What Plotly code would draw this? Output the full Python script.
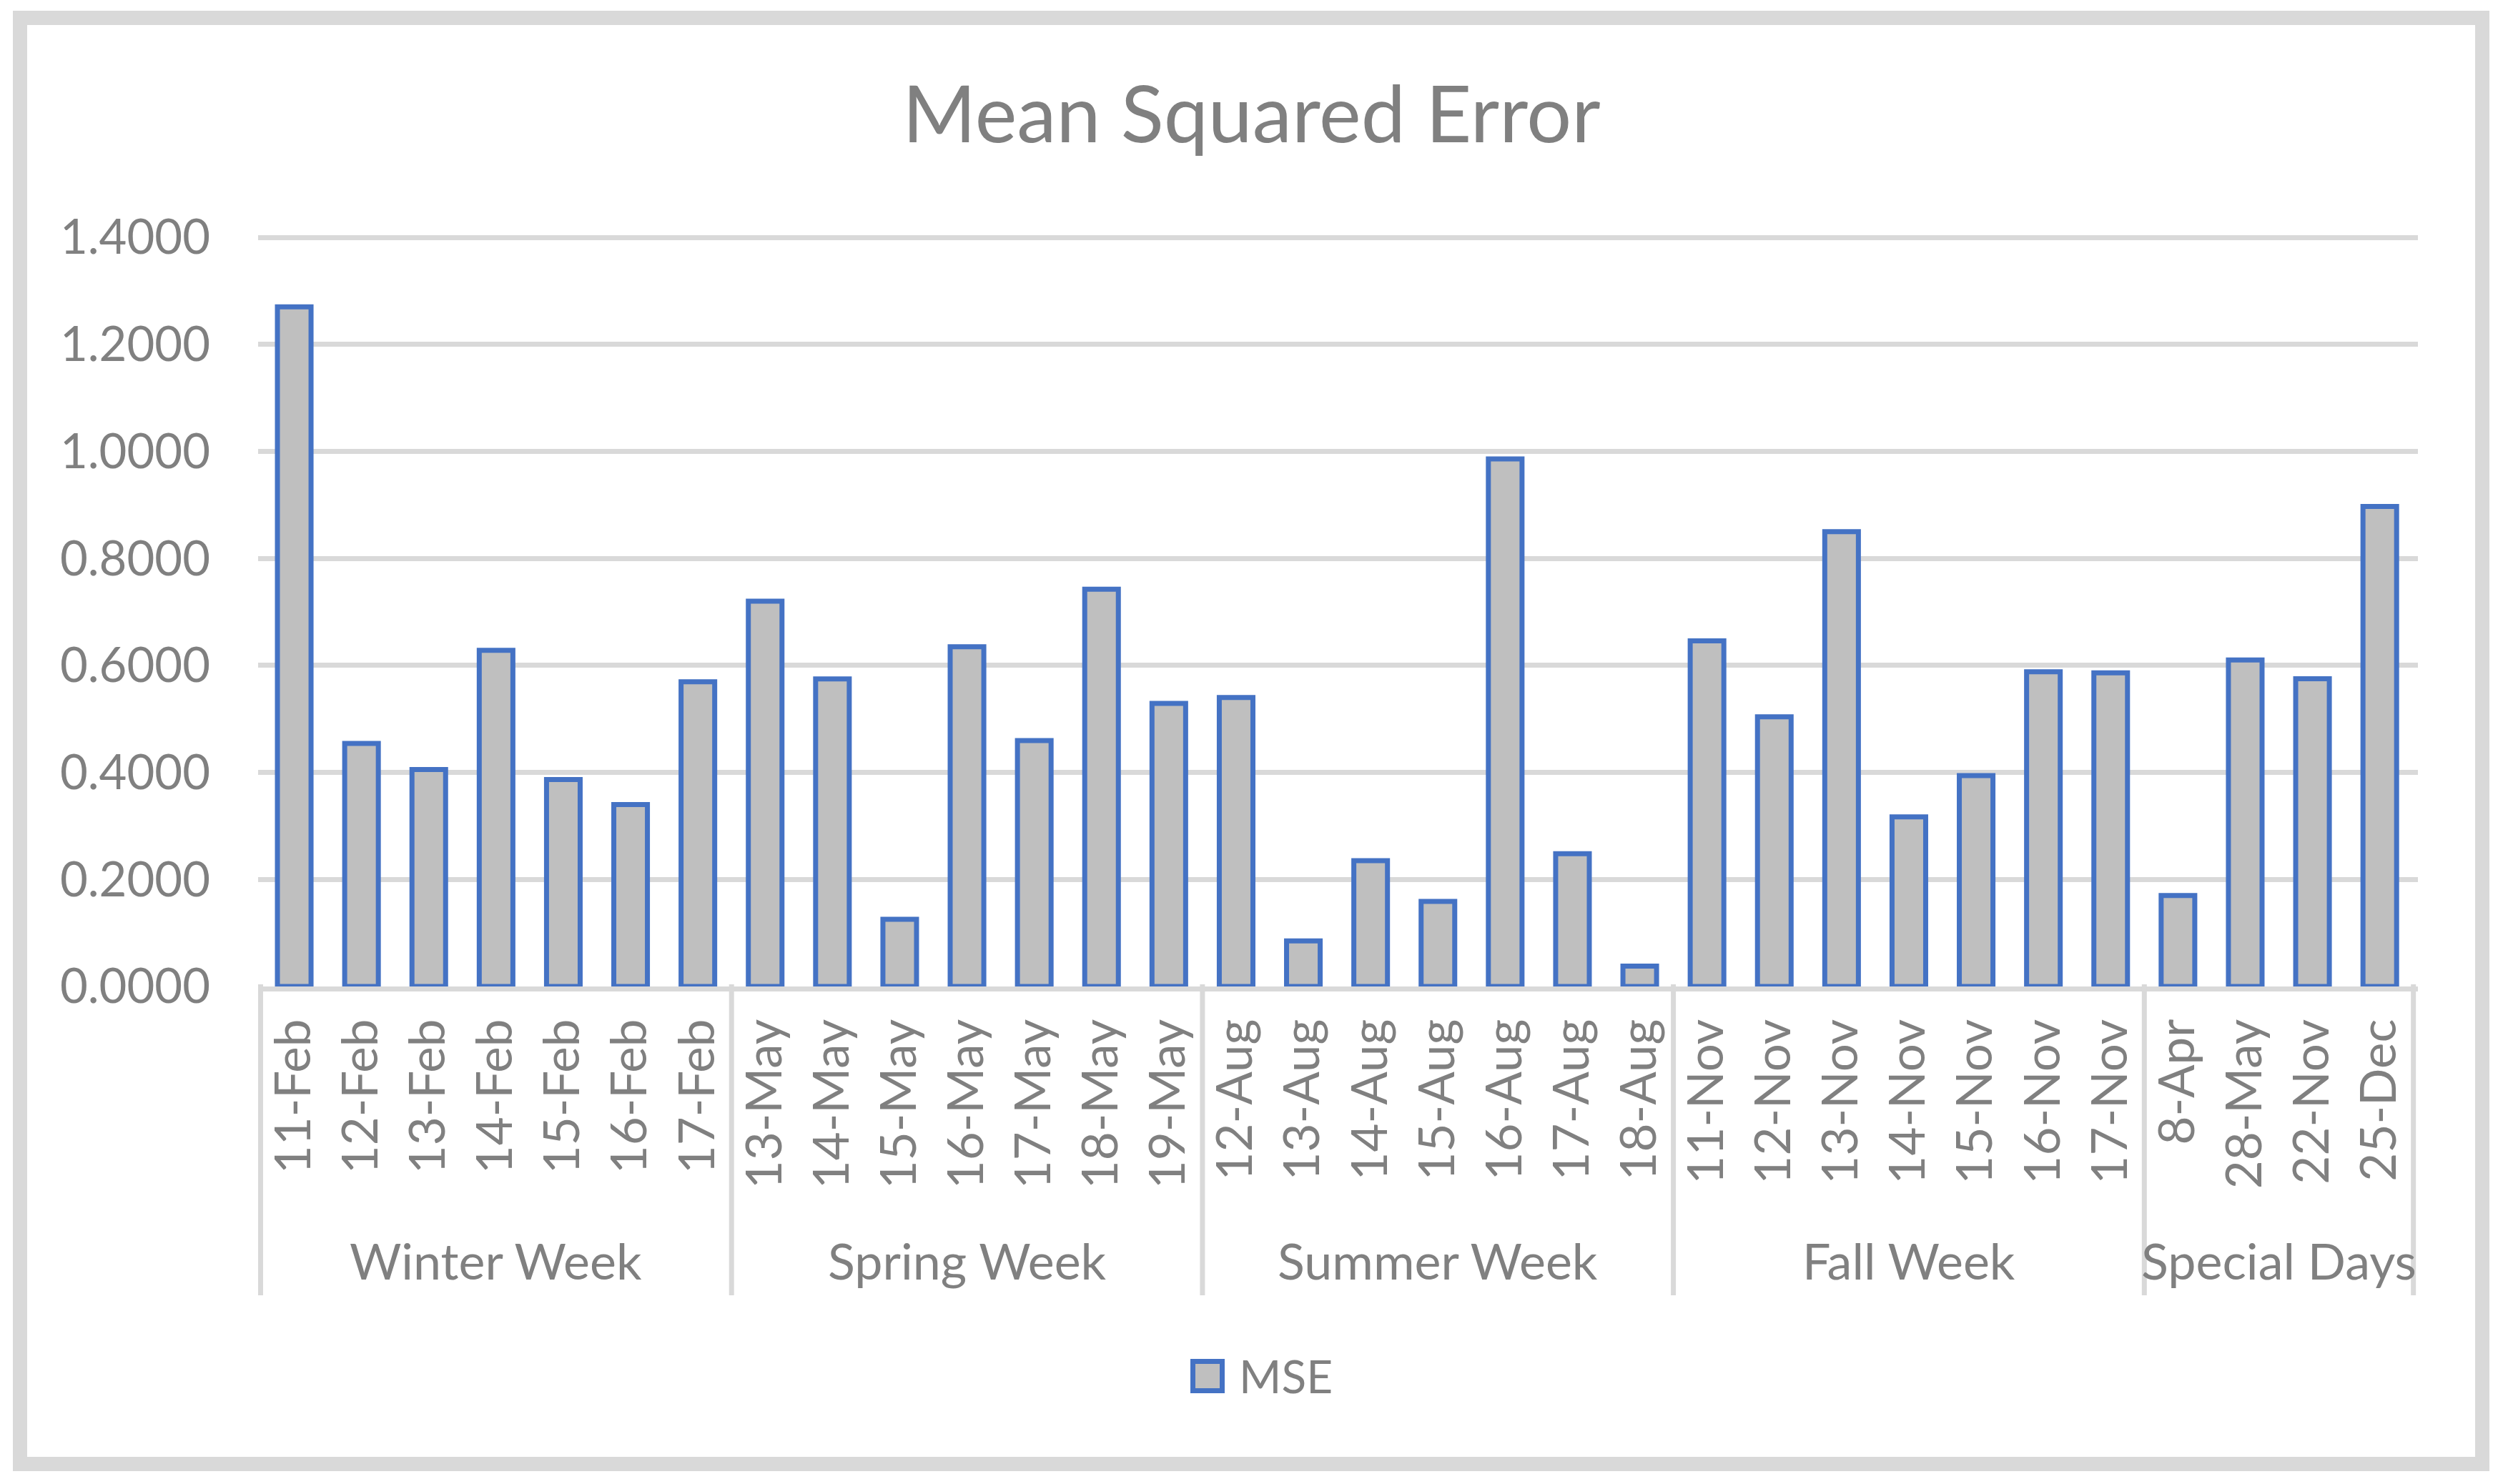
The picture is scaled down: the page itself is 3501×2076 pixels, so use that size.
import plotly.graph_objects as go

# ---------------- data ----------------
groups = ["Winter Week", "Spring Week", "Summer Week", "Fall Week", "Special Days"]
group_sizes = [7, 7, 7, 7, 4]
dates = [
    "11-Feb", "12-Feb", "13-Feb", "14-Feb", "15-Feb", "16-Feb", "17-Feb",
    "13-May", "14-May", "15-May", "16-May", "17-May", "18-May", "19-May",
    "12-Aug", "13-Aug", "14-Aug", "15-Aug", "16-Aug", "17-Aug", "18-Aug",
    "11-Nov", "12-Nov", "13-Nov", "14-Nov", "15-Nov", "16-Nov", "17-Nov",
    "8-Apr", "28-May", "22-Nov", "25-Dec",
]
mse = [
    1.2700, 0.4541, 0.4054, 0.6283, 0.3867, 0.3399, 0.5693,
    0.7200, 0.5749, 0.1255, 0.6348, 0.4597, 0.7425, 0.5290,
    0.5400, 0.0850, 0.2350, 0.1590, 0.9860, 0.2480, 0.0380,
    0.6460, 0.5040, 0.8500, 0.3170, 0.3940, 0.5880, 0.5860,
    0.1700, 0.6100, 0.5750, 0.8970,
]
series_name = "MSE"
title_text = "Mean Squared Error"
y_max = 1.4
y_step = 0.2

# ---------------- layout geometry ----------------
W, H = 3501, 2076
TOP_PAD = 5  # px of headroom so the top gridline is not clipped
ML, MR, MT, MB = 361, 119, 332 - TOP_PAD, 696
PW = W - ML - MR
PH = H - MT - MB
y_top = y_max * PH / (PH - TOP_PAD)

def px_x(px):
    return (px - ML) / PW

def px_y(py):
    return (H - MB - py) / PH

TXT = "#808080"
GRID = "#D9D9D9"
FONT = "Lato"
LW = 7

fig = go.Figure()
fig.add_trace(go.Bar(
    x=dates, y=mse, name=series_name,
    marker=dict(color="#BFBFBF", line=dict(color="#4472C4", width=LW)),
    showlegend=False, hoverinfo="skip",
))

shapes = []
annotations = []

# outer chart frame
shapes.append(dict(type="rect", xref="paper", yref="paper",
                   x0=px_x(28), x1=px_x(3472), y0=px_y(2048), y1=px_y(25),
                   line=dict(color=GRID, width=20), fillcolor="rgba(0,0,0,0)",
                   layer="below"))

# group separators and group labels
start = 0
bounds = [0]
for g, n in zip(groups, group_sizes):
    end = start + n
    bounds.append(end)
    annotations.append(dict(
        text=g, x=(start + end - 1) / 2, xref="x", y=px_y(1763), yref="paper",
        showarrow=False, xanchor="center", yanchor="middle",
        font=dict(family=FONT, size=70, color=TXT),
    ))
    start = end
for b in bounds:
    shapes.append(dict(type="line", xref="x", yref="paper",
                       x0=b - 0.5, x1=b - 0.5, y0=px_y(1377), y1=px_y(1812),
                       line=dict(color=GRID, width=LW)))

# legend (swatch + label)
shapes.append(dict(type="rect", xref="paper", yref="paper",
                   x0=px_x(1668.5), x1=px_x(1709.5), y0=px_y(1945.5), y1=px_y(1904.5),
                   fillcolor="#BFBFBF", line=dict(color="#4472C4", width=LW)))
annotations.append(dict(
    text=series_name, x=px_x(1731), xref="paper", y=px_y(1924), yref="paper",
    showarrow=False, xanchor="left", yanchor="middle",
    font=dict(family=FONT, size=64, color=TXT),
))

fig.update_layout(
    width=W, height=H,
    margin=dict(l=ML, r=MR, t=MT, b=MB, pad=0),
    paper_bgcolor="white", plot_bgcolor="white",
    bargap=0.50,
    title=dict(text=title_text, x=0.5, xref="container", xanchor="center",
               y=1 - 160 / H, yref="container", yanchor="middle",
               font=dict(family=FONT, size=111, color=TXT)),
    shapes=shapes,
    annotations=annotations,
    xaxis=dict(type="category", showline=True, linecolor=GRID, linewidth=LW,
               ticks="", tickangle=-90, showgrid=False, zeroline=False,
               tickfont=dict(family=FONT, size=69, color=TXT),
               ticklabelstandoff=11),
    yaxis=dict(range=[0, y_top], tick0=0, dtick=y_step, tickformat=".4f",
               showgrid=True, gridcolor=GRID, gridwidth=LW, zeroline=False,
               showline=False, ticks="",
               tickfont=dict(family=FONT, size=67, color=TXT),
               ticklabelstandoff=66),
)

fig.write_html("out.html", config={"displayModeBar": False},
               post_script="document.body.style.margin='0px';")
